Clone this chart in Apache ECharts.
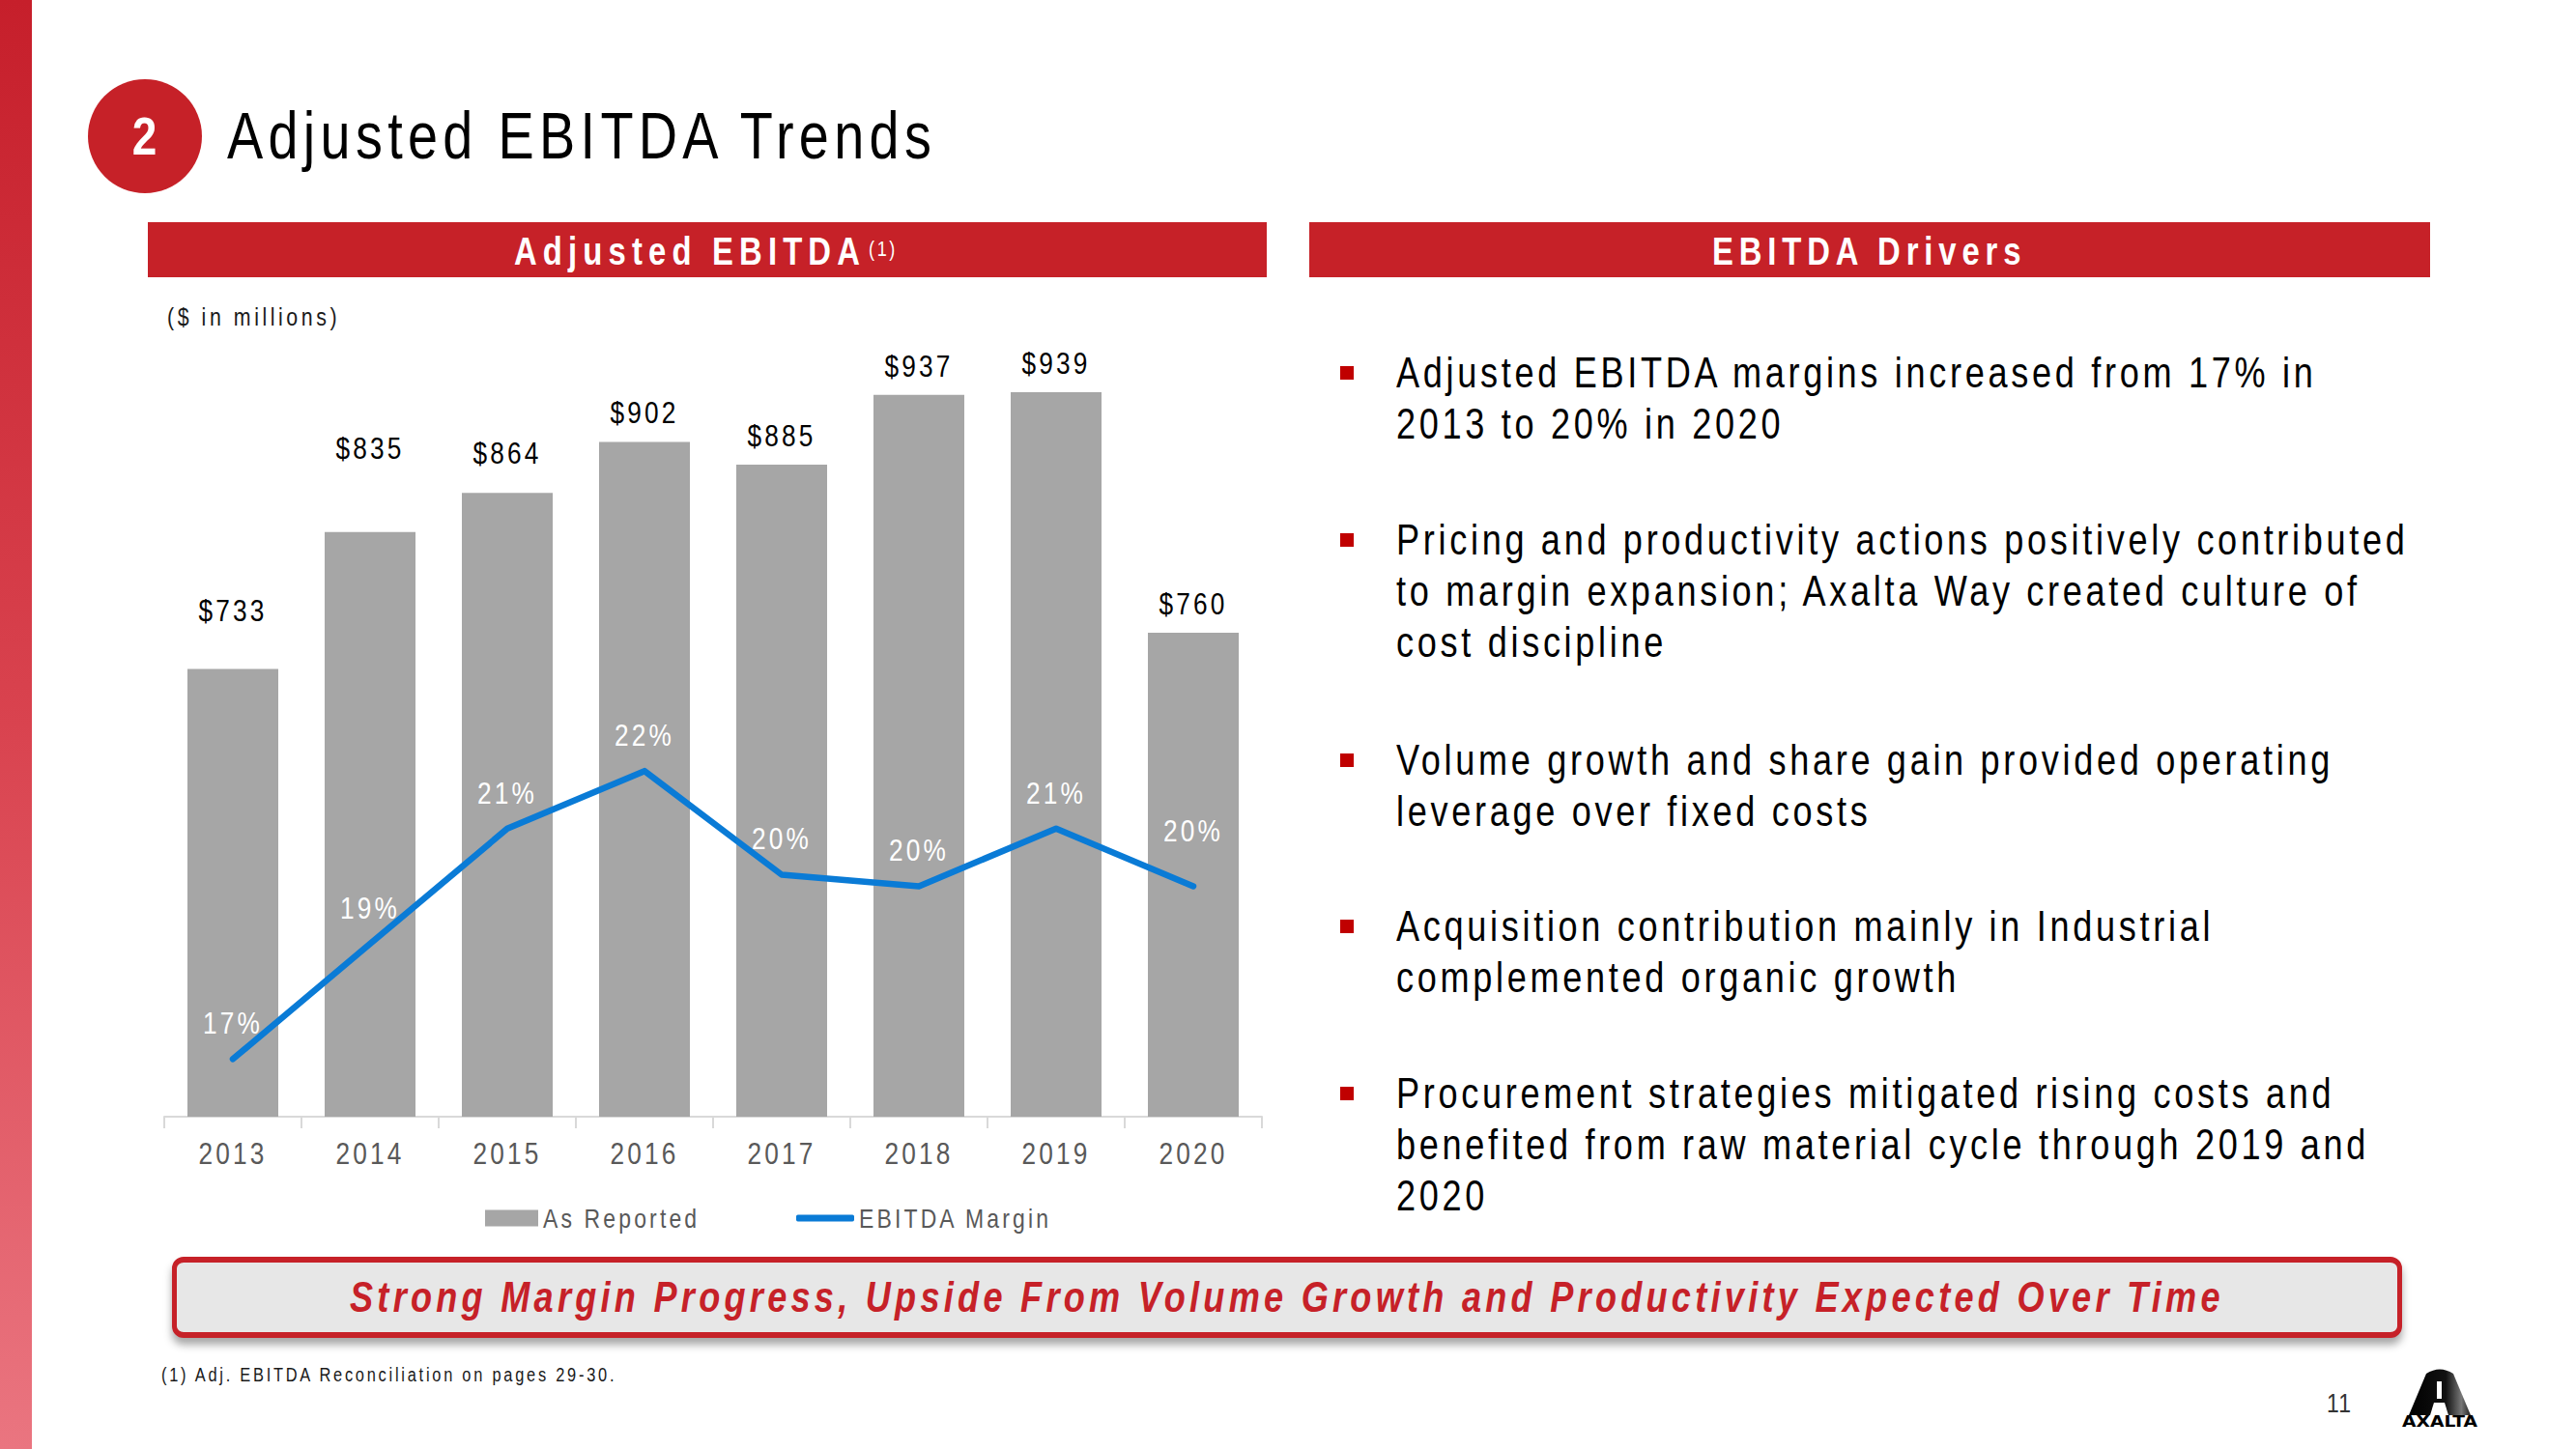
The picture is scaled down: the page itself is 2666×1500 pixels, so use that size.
<!DOCTYPE html>
<html><head><meta charset="utf-8">
<script src="https://cdn.jsdelivr.net/npm/echarts@6/dist/echarts.min.js"></script>
<style>
html,body{margin:0;padding:0;width:2666px;height:1500px;overflow:hidden;background:#fff;}
body{position:relative;font-family:var(--ff);}
.abs{position:absolute;white-space:nowrap;}
.n{display:inline-block;transform-origin:0 50%;}
#chart{position:absolute;left:0;top:0;width:2666px;height:1500px;}
#chart text{letter-spacing:var(--cls);}
#stripe{left:0;top:0;width:33px;height:1500px;background:linear-gradient(#c61f2b,#d9434f 50%,#ea7580);}
#circle{left:91px;top:82px;width:118px;height:118px;border-radius:50%;background:#c62128;color:#fff;font-weight:bold;font-size:56px;line-height:118px;text-align:center;}
#circle span{display:inline-block;transform-origin:50% 50%;}
.hdr{height:57px;background:#c62128;top:230px;}
.hdrtxt{color:#fff;font-weight:bold;font-size:40px;line-height:40px;top:240px;}
.bl{font-size:44px;line-height:44px;color:#000;left:1445px;}
.sq{position:absolute;left:1387px;width:14px;height:14px;background:#c00000;}
#banner{left:178px;top:1301px;width:2298px;height:72px;border:6px solid #c62128;border-left-width:5px;border-right-width:5px;border-radius:12px;background:#e7e7e7;box-shadow:0 7px 8px rgba(0,0,0,0.35);}
</style></head>
<body>
<div id="chart"></div>
<div id="stripe" class="abs"></div>
<div id="circle" class="abs"><span id="two">2</span></div>
<div class="abs" style="left:235px;top:106px;font-size:68px;line-height:68px;color:#000;"><span id="title" class="n">Adjusted EBITDA Trends</span></div>
<div class="abs hdr" style="left:153px;width:1158px;"></div>
<div class="abs hdr" style="left:1355px;width:1160px;"></div>
<div class="abs hdrtxt" style="left:532px;"><span id="h1" class="n">Adjusted EBITDA</span></div>
<div class="abs" style="left:899px;top:247px;font-size:22px;line-height:22px;color:#fff;"><span id="h1s" class="n">(1)</span></div>
<div class="abs hdrtxt" style="left:1772px;"><span id="h2" class="n">EBITDA Drivers</span></div>
<div class="abs" style="left:173px;top:315px;font-size:26px;line-height:26px;color:#1a1a1a;"><span id="units" class="n">($ in millions)</span></div>
<div id="bullets"></div>
<div id="banner" class="abs"></div>
<div class="abs" style="left:362px;top:1321px;font-size:44px;line-height:44px;font-weight:bold;font-style:italic;color:#c62128;"><span id="bannertxt" class="n">Strong Margin Progress, Upside From Volume Growth and Productivity Expected Over Time</span></div>
<div class="abs" style="left:167px;top:1413px;font-size:20px;line-height:20px;color:#1a1a1a;"><span id="foot" class="n">(1) Adj. EBITDA Reconciliation on pages 29-30.</span></div>
<div class="abs" style="left:2408px;top:1439px;font-size:28px;line-height:28px;color:#333;"><span id="pg" class="n">11</span></div>
<svg class="abs" style="left:2480px;top:1410px;" width="90" height="72" viewBox="0 0 90 72">
 <defs><linearGradient id="lg" x1="0" x2="1" y1="0" y2="0"><stop offset="0" stop-color="#000"/><stop offset="0.6" stop-color="#111"/><stop offset="0.85" stop-color="#777"/><stop offset="1" stop-color="#222"/></linearGradient></defs>
 <path d="M13,55 L31,12 Q45,3 59,12 L77,55 Z" fill="url(#lg)"/>
 <rect x="42" y="20" width="5" height="18" fill="#fff"/>
 <path d="M39,42 L50,42 L54,55 L35,55 Z" fill="#fff"/>
 <text x="6" y="67" font-family="DejaVu Sans" font-weight="bold" font-size="15" textLength="78" lengthAdjust="spacingAndGlyphs">AXALTA</text>
</svg>
<script>
// ---------- data ----------
const years = ['2013','2014','2015','2016','2017','2018','2019','2020'];
const ebitda = [733, 835, 864, 902, 885, 937, 939, 760];
const margin = [17.0, 19.0, 21.0, 22.0, 20.2, 20.0, 21.0, 20.0];
const seriesNames = ['As Reported', 'EBITDA Margin'];
// label lifts (layout only, px)
const barLabelLift = [31, 57, 11, 0, 0, 0, 0, 0];
const lineLabelLift = [0, 0, 0, 0, 0, 0, 0, 20];

const bulletLines = [
  ['Adjusted EBITDA margins increased from 17% in', '2013 to 20% in 2020'],
  ['Pricing and productivity actions positively contributed', 'to margin expansion; Axalta Way created culture of', 'cost discipline'],
  ['Volume growth and share gain provided operating', 'leverage over fixed costs'],
  ['Acquisition contribution mainly in Industrial', 'complemented organic growth'],
  ['Procurement strategies mitigated rising costs and', 'benefited from raw material cycle through 2019 and', '2020']
];
const bulletTop = [386, 559, 787, 959, 1132];

// ---------- font ----------
function hasFont(name){
  const c=document.createElement('canvas').getContext('2d');
  const t='abcdefghijklmnopqrstuvwxyzABCDEFGH0123456789';
  let r=false;
  for(const fb of ['monospace','serif']){
    c.font='40px '+fb; const a=c.measureText(t).width;
    c.font='40px "'+name+'", '+fb; const b=c.measureText(t).width;
    if(Math.abs(a-b)>0.5) r=true;
  }
  return r;
}
const NARROW = hasFont('Liberation Sans Narrow');
const FF = NARROW ? '"Liberation Sans Narrow","Liberation Sans",Arial,sans-serif' : '"Liberation Sans",Arial,sans-serif';
const SX = NARROW ? 1 : 0.82;   // horizontal squeeze to imitate a narrow face
document.documentElement.style.setProperty('--ff', FF);
document.getElementById('two').style.transform='scaleX('+SX+')';

// bullets
const bc = document.getElementById('bullets');
const lineEls=[];
bulletLines.forEach((lines,i)=>{
  const sq=document.createElement('div'); sq.className='sq'; sq.style.top=(bulletTop[i]-7)+'px'; bc.appendChild(sq);
  lines.forEach((ln,j)=>{
    const d=document.createElement('div'); d.className='abs bl';
    d.style.top=(bulletTop[i]+j*53.2-22)+'px';
    const s=document.createElement('span'); s.className='n'; s.textContent=ln; d.appendChild(s);
    bc.appendChild(d); lineEls.push(s);
  });
});

function fit(el,target){
  el.style.letterSpacing='0px';
  el.style.transform='scaleX('+SX+')';
  const w=el.offsetWidth;
  const n=[...el.textContent].length;
  const ls=(target/SX-w)/n; el.style.letterSpacing=ls+'px'; return ls;
}
fit(document.getElementById('title'),734);
fit(document.getElementById('h1'),364);
fit(document.getElementById('h1s'),30);
fit(document.getElementById('h2'),325);
fit(document.getElementById('units'),179);
fit(document.getElementById('bannertxt'),1940);
fit(document.getElementById('foot'),471);
fit(document.getElementById('pg'),26);
{
  const a=fit(lineEls[0],964), b=fit(lineEls[2],1034);
  const ls=(a+b)/2; lineEls.forEach(e=>{e.style.letterSpacing=ls+'px';e.style.transform='scaleX('+SX+')';});
}
// chart letter spacing from axis label width
{
  const c=document.createElement('canvas').getContext('2d');
  c.font='32px '+FF; const w=c.measureText('2013').width;
  document.documentElement.style.setProperty('--cls', Math.max(0,(71/SX-w)/4)+'px');
}

// ---------- chart ----------
const chart = echarts.init(document.getElementById('chart'), null, {renderer:'svg', width:2666, height:1500});
const blue = '#0a7bd6';
chart.setOption({
  animation:false,
  textStyle:{fontFamily:FF},
  grid:{left:170, right:1360, top:321, bottom:344},
  xAxis:{type:'category', data:years, boundaryGap:true,
    axisLine:{lineStyle:{color:'#d9d9d9', width:2}},
    axisTick:{show:true, length:12, lineStyle:{color:'#d9d9d9', width:2}},
    axisLabel:{color:'#595959', fontSize:32, margin:22, fontFamily:FF}},
  yAxis:[
    {type:'value', min:400, max:1000, show:false, splitLine:{show:false}},
    {type:'value', min:16, max:30, show:false, splitLine:{show:false}}
  ],
  legend:[
    {data:[{name:seriesNames[0], icon:'rect'}], left:502, top:1247, padding:0, itemWidth:55, itemHeight:17,
     textStyle:{color:'#595959', fontSize:28, fontFamily:FF}},
    {data:[{name:seriesNames[1], icon:'roundRect'}], left:824, top:1247, padding:0, itemWidth:60, itemHeight:7,
     textStyle:{color:'#595959', fontSize:28, fontFamily:FF}}
  ],
  series:[
    {type:'bar', name:seriesNames[0], barWidth:94, itemStyle:{color:'#a6a6a6'},
     data: ebitda.map((v,i)=>({value:v, label:{offset:[0,-barLabelLift[i]]}})),
     label:{show:true, position:'top', distance:14, color:'#000', fontSize:32, fontFamily:FF,
       formatter:p=>'$'+p.value}},
    {type:'line', name:seriesNames[1], yAxisIndex:1, symbol:'circle', symbolSize:2, showSymbol:true,
     lineStyle:{width:6.5, color:blue, cap:'round', join:'round'}, itemStyle:{color:blue},
     data: margin.map((v,i)=>({value:v, label:{offset:[0,-lineLabelLift[i]]}})),
     label:{show:true, position:'top', distance:20, color:'#fff', fontSize:32, fontFamily:FF,
       formatter:p=>Math.round(p.value)+'%'}, z:5}
  ]
});

// squeeze chart texts horizontally around their anchor (keeps positions)
function squeeze(){
  if(SX===1) return;
  document.querySelectorAll('#chart text').forEach(t=>{
    if(t.dataset.sq) return;
    let bb; try{bb=t.getBBox();}catch(e){return;}
    const anchor=t.getAttribute('text-anchor')||getComputedStyle(t).textAnchor||'start';
    const cx = anchor==='middle' ? bb.x+bb.width/2 : (anchor==='end' ? bb.x+bb.width : bb.x);
    const tr=t.getAttribute('transform')||'';
    t.setAttribute('transform', tr+' translate('+cx+',0) scale('+SX+',1) translate('+(-cx)+',0)');
    t.dataset.sq='1';
  });
}
squeeze();
chart.on('finished', squeeze);
</script>
</body></html>
